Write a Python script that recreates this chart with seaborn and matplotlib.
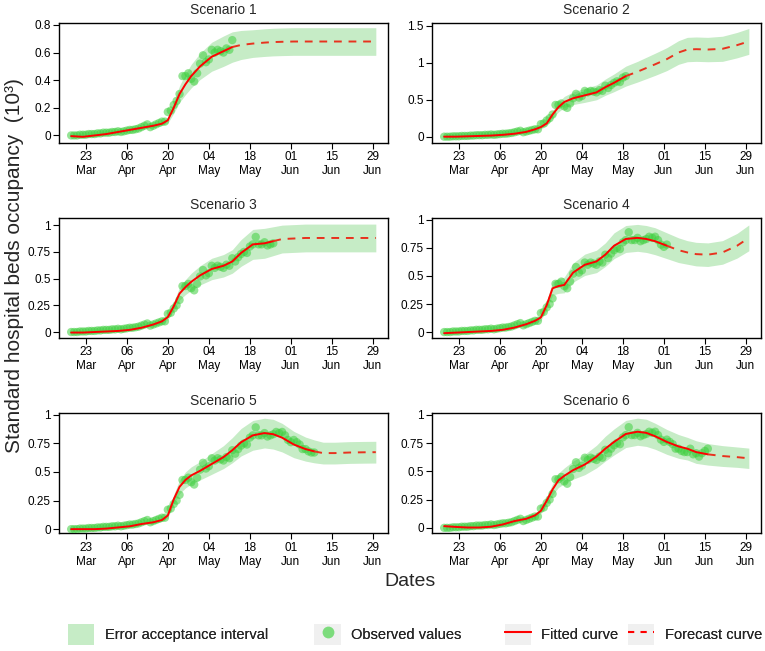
import matplotlib

matplotlib.use("Agg")

import matplotlib.dates as mdates
import matplotlib.pyplot as plt
import numpy as np
import pandas as pd
import seaborn as sns
from matplotlib.lines import Line2D
from matplotlib.patches import Patch

START_DATE = "2020-03-18"

# daily observed occupancy (10^3 beds), from 18 Mar onwards
OBSERVED = [
    0.0, 0.0, 0.0, 0.005, 0.005, 0.005, 0.01,
    0.01, 0.01, 0.015, 0.015, 0.02, 0.02, 0.02,
    0.025, 0.025, 0.03, 0.025, 0.03, 0.035, 0.04,
    0.04, 0.045, 0.05, 0.06, 0.07, 0.08, 0.06,
    0.07, 0.08, 0.09, 0.1, 0.1, 0.17, 0.18,
    0.22, 0.25, 0.3, 0.43, 0.43, 0.45, 0.41,
    0.39, 0.45, 0.52, 0.58, 0.53, 0.55, 0.62,
    0.6, 0.62, 0.61, 0.6, 0.63, 0.62, 0.69,
    0.66, 0.7, 0.73, 0.75, 0.74, 0.8, 0.82,
    0.89, 0.82, 0.82, 0.84, 0.81, 0.82, 0.83,
    0.85, 0.84, 0.85, 0.82, 0.78, 0.76, 0.78,
    0.76, 0.74, 0.7, 0.7, 0.68, 0.67, 0.67,
    0.7, 0.65, 0.66, 0.63, 0.66, 0.68, 0.7,
]

# last observed day (days since 18 Mar) used by each scenario
OBS_END = [55, 62, 69, 76, 83, 90]

# days (since 18 Mar) where the fitted / forecast curves are sampled
KNOT_DAYS = [0, 4, 8, 12, 16, 20, 24, 28, 31, 33, 35, 37, 39, 41, 44, 48,
             52, 55, 58, 62, 66, 69, 72, 76, 80, 83, 86, 90, 95, 100, 104]

FIT_S1 = [-0.005, -0.01, 0.0, 0.01, 0.025, 0.04, 0.055, 0.07, 0.085, 0.11, 0.2,
          0.3, 0.37, 0.43, 0.5, 0.57, 0.61, 0.64, 0.655, 0.665, 0.672, 0.676,
          0.678, 0.68, 0.68, 0.68, 0.68, 0.68, 0.68, 0.68, 0.68]
FIT_S2 = [0.0, 0.0, 0.005, 0.01, 0.015, 0.025, 0.04, 0.065, 0.1, 0.13, 0.18,
          0.3, 0.4, 0.47, 0.52, 0.56, 0.6, 0.67, 0.73, 0.82, 0.88, 0.93,
          0.98, 1.05, 1.14, 1.18, 1.185, 1.18, 1.19, 1.24, 1.29]
FIT_S3 = [-0.005, -0.005, 0.0, 0.005, 0.01, 0.02, 0.04, 0.07, 0.1, 0.14, 0.24,
          0.36, 0.42, 0.47, 0.53, 0.59, 0.62, 0.66, 0.74, 0.82, 0.83, 0.85,
          0.87, 0.875, 0.88, 0.88, 0.88, 0.88, 0.88, 0.88, 0.88]
FIT_S4 = [-0.01, -0.005, 0.0, 0.005, 0.01, 0.02, 0.04, 0.07, 0.1, 0.13, 0.24,
          0.39, 0.41, 0.42, 0.53, 0.6, 0.63, 0.69, 0.77, 0.83, 0.84, 0.83,
          0.81, 0.77, 0.73, 0.71, 0.695, 0.69, 0.71, 0.77, 0.84]
FIT_S5 = [0.0, 0.0, 0.0, 0.005, 0.015, 0.025, 0.045, 0.06, 0.08, 0.12, 0.26,
          0.37, 0.43, 0.47, 0.51, 0.57, 0.63, 0.69, 0.76, 0.82, 0.84, 0.83,
          0.8, 0.74, 0.7, 0.68, 0.665, 0.665, 0.67, 0.672, 0.673]
FIT_S6 = [0.015, 0.008, 0.003, 0.003, 0.01, 0.03, 0.06, 0.08, 0.11, 0.15, 0.24,
          0.34, 0.42, 0.46, 0.51, 0.56, 0.63, 0.7, 0.76, 0.83, 0.85, 0.84,
          0.81, 0.76, 0.72, 0.7, 0.67, 0.65, 0.635, 0.625, 0.615]

# half width of the error acceptance interval at each knot
BAND_S1 = [0.0, 0.0, 0.0, 0.0, 0.005, 0.007, 0.009, 0.011, 0.014, 0.02, 0.04,
           0.06, 0.075, 0.085, 0.095, 0.105, 0.11, 0.11, 0.105, 0.1, 0.1, 0.1,
           0.1, 0.1, 0.1, 0.1, 0.1, 0.1, 0.1, 0.1, 0.1]
BAND_S2 = [0.0, 0.0, 0.001, 0.002, 0.003, 0.005, 0.008, 0.012, 0.018, 0.025,
           0.035, 0.05, 0.065, 0.075, 0.085, 0.095, 0.1, 0.11, 0.12, 0.135,
           0.14, 0.145, 0.15, 0.155, 0.16, 0.165, 0.165, 0.165, 0.17, 0.172, 0.175]
BAND_S3 = [0.0, 0.0, 0.0, 0.001, 0.002, 0.004, 0.007, 0.012, 0.018, 0.025, 0.04,
           0.06, 0.07, 0.08, 0.09, 0.1, 0.105, 0.11, 0.125, 0.14, 0.14, 0.135,
           0.13, 0.13, 0.13, 0.13, 0.13, 0.13, 0.13, 0.13, 0.13]
BAND_S4 = [0.0, 0.0, 0.0, 0.001, 0.002, 0.004, 0.007, 0.012, 0.018, 0.025, 0.04,
           0.06, 0.065, 0.07, 0.085, 0.095, 0.1, 0.105, 0.115, 0.12, 0.12, 0.12,
           0.12, 0.115, 0.11, 0.105, 0.105, 0.105, 0.105, 0.11, 0.115]
BAND_S5 = [0.0, 0.0, 0.0, 0.001, 0.002, 0.004, 0.007, 0.01, 0.013, 0.02, 0.04,
           0.06, 0.07, 0.075, 0.08, 0.09, 0.1, 0.11, 0.12, 0.13, 0.13, 0.13,
           0.125, 0.115, 0.105, 0.1, 0.095, 0.095, 0.095, 0.095, 0.095]
BAND_S6 = [0.002, 0.001, 0.0, 0.0, 0.002, 0.005, 0.009, 0.012, 0.016, 0.022,
           0.036, 0.05, 0.063, 0.07, 0.08, 0.09, 0.1, 0.11, 0.115, 0.12, 0.12,
           0.12, 0.115, 0.11, 0.105, 0.1, 0.1, 0.095, 0.092, 0.09, 0.09]

TITLES = ["Scenario 1", "Scenario 2", "Scenario 3",
          "Scenario 4", "Scenario 5", "Scenario 6"]
Y_TICKS = [
    [0, 0.2, 0.4, 0.6, 0.8],
    [0, 0.5, 1, 1.5],
    [0, 0.25, 0.5, 0.75, 1],
    [0, 0.25, 0.5, 0.75, 1],
    [0, 0.25, 0.5, 0.75, 1],
    [0, 0.25, 0.5, 0.75, 1],
]
Y_LIMS = [(-0.055, 0.817), (-0.086, 1.545), (-0.056, 1.071),
          (-0.053, 1.021), (-0.038, 1.015), (-0.05, 1.015)]
TICK_DATES = ["2020-03-23", "2020-04-06", "2020-04-20", "2020-05-04",
              "2020-05-18", "2020-06-01", "2020-06-15", "2020-06-29"]

BAND_COLOR = "#c6ecc6"
POINT_COLOR = "#3fcf3f"
LINE_COLOR = "#ff0000"
FORECAST_COLOR = "#e8321e"
KEY_BG = "#f0f0f0"


def to_dates(days):
    return pd.Timestamp(START_DATE) + pd.to_timedelta(list(days), unit="D")


def draw_panel(ax, title, fit, band, obs_end, yticks, ylim):
    fit = np.asarray(fit)
    band = np.asarray(band)
    knot_dates = to_dates(KNOT_DAYS)

    ax.fill_between(knot_dates, fit - band, fit + band, color=BAND_COLOR,
                    linewidth=0, zorder=1)

    obs = pd.DataFrame({"date": to_dates(range(obs_end + 1)),
                        "value": OBSERVED[:obs_end + 1]})
    sns.scatterplot(data=obs, x="date", y="value", ax=ax, color=POINT_COLOR,
                    alpha=0.55, s=36, edgecolor="none", zorder=3, legend=False)

    curve = pd.DataFrame({"day": KNOT_DAYS, "date": knot_dates, "value": fit})
    fitted = curve[curve["day"] <= obs_end]
    forecast = curve[curve["day"] >= obs_end]
    sns.lineplot(data=fitted, x="date", y="value", ax=ax, color=LINE_COLOR,
                 linewidth=1.4, estimator=None, sort=False, zorder=4)
    sns.lineplot(data=forecast, x="date", y="value", ax=ax, color=FORECAST_COLOR,
                 linewidth=1.4, linestyle=(0, (4, 3.5)), estimator=None,
                 sort=False, zorder=4)

    pad = pd.Timedelta(days=4.16)
    ax.set_xlim(pd.Timestamp(START_DATE) - pad,
                pd.Timestamp(START_DATE) + pd.Timedelta(days=104) + pad)
    ax.set_xticks(pd.to_datetime(TICK_DATES))
    ax.xaxis.set_major_formatter(mdates.DateFormatter("%d\n%b"))
    ax.set_ylim(*ylim)
    ax.set_yticks(yticks)
    ax.set_yticklabels([f"{v:g}" for v in yticks])
    ax.set_title(title, fontsize=10, pad=6)
    ax.set_xlabel("")
    ax.set_ylabel("")
    ax.tick_params(direction="out", length=4, width=0.8, pad=2,
                   labelsize=8.5, colors="black")
    for spine in ax.spines.values():
        spine.set_visible(True)
        spine.set_linewidth(1.0)
        spine.set_color("black")


def add_legend(fig):
    key_bg = Patch(facecolor=KEY_BG, edgecolor="none")
    entries = [
        (Patch(facecolor=BAND_COLOR, edgecolor="none"),
         "Error acceptance interval", 0.089),
        ((key_bg, Line2D([], [], linestyle="none", marker="o", markersize=8.5,
                         markerfacecolor="#7ddc7d", markeredgecolor="none")),
         "Observed values", 0.411),
        ((key_bg, Line2D([], [], color=LINE_COLOR, linewidth=1.5)),
         "Fitted curve", 0.660),
        ((key_bg, Line2D([], [], color=LINE_COLOR, linewidth=1.5,
                         linestyle=(0, (3, 3)))),
         "Forecast curve", 0.821),
    ]
    for handle, label, x in entries:
        leg = fig.legend([handle], [label], loc="center left",
                         bbox_to_anchor=(x, 0.025), frameon=False,
                         fontsize=10.5, handlelength=1.8, handleheight=1.8,
                         handletextpad=0.7, borderpad=0, borderaxespad=0)
        fig.add_artist(leg)


def main():
    sns.set_style("ticks")
    plt.rcParams["font.family"] = ["Liberation Sans", "DejaVu Sans"]

    fig = plt.figure(figsize=(7.65, 6.51), dpi=100)
    fits = [FIT_S1, FIT_S2, FIT_S3, FIT_S4, FIT_S5, FIT_S6]
    bands = [BAND_S1, BAND_S2, BAND_S3, BAND_S4, BAND_S5, BAND_S6]

    lefts = [0.0771, 0.5647]
    bottoms = [0.7803, 0.4808, 0.1805]
    for i in range(6):
        ax = fig.add_axes([lefts[i % 2], bottoms[i // 2], 0.4301, 0.185])
        draw_panel(ax, TITLES[i], fits[i], bands[i], OBS_END[i],
                   Y_TICKS[i], Y_LIMS[i])

    fig.text(0.536, 0.106, "Dates", ha="center", va="center", fontsize=14)
    fig.text(0.019, 0.592, "Standard hospital beds occupancy  (10³)",
             ha="center", va="center", rotation=90, fontsize=15)
    add_legend(fig)

    fig.savefig("out.png", dpi=100)
    plt.close(fig)


if __name__ == "__main__":
    main()
